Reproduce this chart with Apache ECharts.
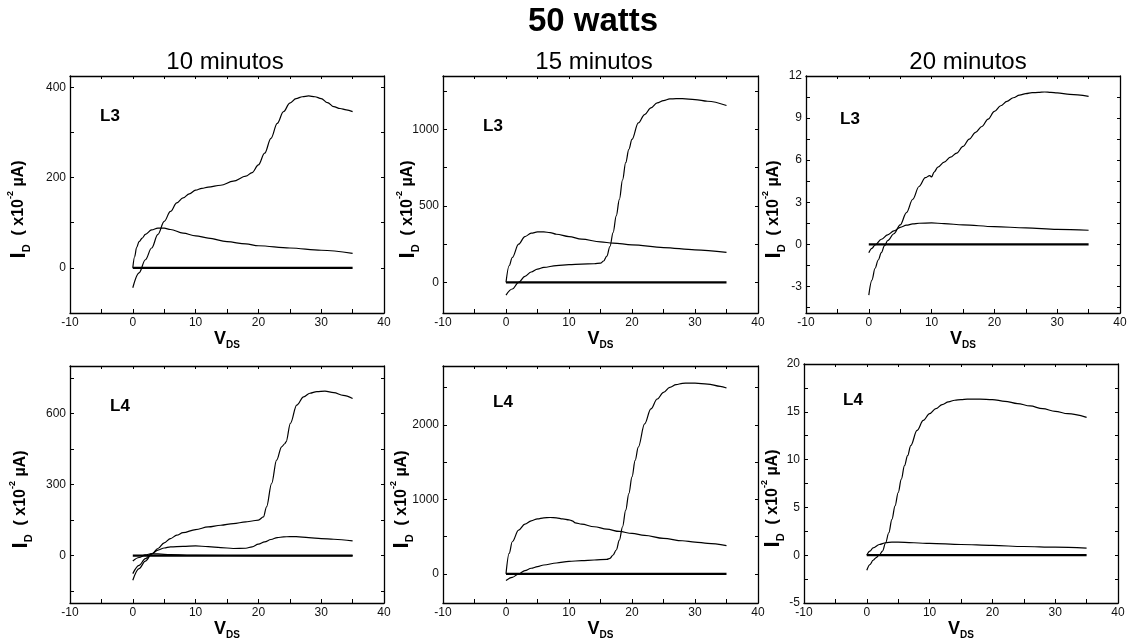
<!DOCTYPE html>
<html><head><meta charset="utf-8">
<script src="https://cdn.jsdelivr.net/npm/echarts@6/dist/echarts.min.js"></script>
<style>html,body{margin:0;padding:0;background:#fff}#c{width:1128px;height:639px}</style>
</head><body><div id="c"></div>
<script>
// ---------- tick labels ----------
const xLabelValues = [-10, 0, 10, 20, 30, 40];
const xMinorValues = [-5, 5, 15, 25, 35];

const p1YLabels = [0, 200, 400];          const p1YMinor = [100, 300];
const p2YLabels = [0, 500, 1000];         const p2YMinor = [250, 750, 1250];
const p3YLabels = [-3, 0, 3, 6, 9, 12];   const p3YMinor = [-4.5, -1.5, 1.5, 4.5, 7.5, 10.5];
const p4YLabels = [0, 300, 600];          const p4YMinor = [-150, 150, 450, 750];
const p5YLabels = [0, 1000, 2000];        const p5YMinor = [500, 1500, 2500];
const p6YLabels = [-5, 0, 5, 10, 15, 20]; const p6YMinor = [-2.5, 2.5, 7.5, 12.5, 17.5];

// ---------- titles ----------
const mainTitle = '50 watts';
const columnTitles = ['10 minutos', '15 minutos', '20 minutos'];
const rowTags = ['L3', 'L4'];

// ---------- data: [V_DS, I_D] ----------
// 10 minutos, L3
const m10L3_rise = [[0,-44],[1,-11],[2,18],[3,44],[4,74],[5,103],[6,125],[7,144],[8,155],[9,164],[10,172],[11,176],[12,179],[14,183],[16,192],[18,203],[19,211],[20,228],[21,254],[22,287],[23,320],[24,346],[25,365],[26,375],[27,379],[28,381],[29,379],[30,375],[31,366],[32,357],[33,353],[34,350],[35,346]];
const m10L3_hump = [[0,0],[0.3,25],[0.6,45],[1,58],[1.5,66],[2,74],[3,84],[4,88],[5,88],[6,85],[8,77],[10,71],[12,66],[15,58],[18,53],[20,49],[25,44],[30,39],[35,32]];
const m10L3_zero = [[0,0],[35,0]];
// 15 minutos, L3
const m15L3_rise = [[0,-83],[1,-43],[2,0],[3,40],[4,68],[5,87],[6,98],[8,110],[10,116],[12,120],[14,122],[15,126],[15.5,140],[16,172],[16.5,235],[17,326],[17.5,435],[18,543],[18.5,670],[19,783],[19.5,870],[20,935],[21,1043],[22,1098],[23,1141],[24,1174],[25,1189],[26,1200],[27,1202],[28,1202],[30,1196],[32,1185],[35,1157]];
const m15L3_hump = [[0,0],[0.5,109],[1,163],[2,250],[3,300],[4,322],[5,330],[6,330],[7,326],[8,315],[10,300],[12,283],[15,265],[17,257],[20,246],[25,228],[30,213],[35,196]];
const m15L3_zero = [[0,0],[35,0]];
// 20 minutos, L3
const m20L3_rise = [[0,-3.62],[0.5,-2.55],[1,-1.71],[1.5,-1.12],[2,-0.6],[2.5,-0.1],[3,0.26],[4,0.75],[5,1.38],[6,2.26],[7,3.21],[8,4.12],[9,4.75],[9.7,4.9],[10,4.8],[10.4,5.15],[11,5.5],[12,5.86],[13,6.21],[14,6.5],[15,6.98],[16,7.5],[17,7.98],[18,8.4],[19,8.93],[20,9.48],[21,9.88],[22,10.19],[23,10.45],[24,10.64],[25,10.74],[26,10.81],[27,10.83],[28,10.86],[29,10.83],[30,10.79],[32,10.69],[35,10.55]];
const m20L3_hump = [[0,-0.6],[0.5,-0.29],[1,-0.05],[2,0.36],[3,0.67],[4,0.95],[5,1.21],[6,1.36],[7,1.45],[8,1.5],[10,1.52],[12,1.48],[15,1.38],[20,1.26],[25,1.17],[30,1.07],[35,1.0]];
const m20L3_zero = [[0,0],[35,0]];
// 10 minutos, L4
const m10L4_rise = [[0,-104],[1,-55],[2,-23],[3,6],[4,30],[5,54],[6,72],[7,86],[8,97],[10,110],[12,121],[14,128],[16,135],[18,142],[19,146],[20,150],[20.8,163],[21.3,206],[22.1,304],[22.9,403],[23.7,459],[24.2,472],[24.4,480],[25.1,558],[26.1,635],[27.2,670],[28.2,685],[29.3,692],[30.6,694],[32,688],[33.5,676],[35,663]];
const m10L4_mid = [[0,-76],[1,-41],[2,-13],[3,8],[4,23],[5,32],[6,37],[8,39],[10,41],[12,38],[14,34],[16,30],[18,31],[19,37],[20,48],[21,58],[22,68],[23,76],[24,79],[25,80],[26,80],[28,76],[30,72],[32,69],[35,62]];
const m10L4_low = [[0,-23],[1,-8],[2,3],[3,8],[4,7],[6,4],[10,1],[20,0],[35,0]];
const m10L4_zero = [[0,0],[35,0]];
// 15 minutos, L4
const m15L4_rise = [[0,-89],[1,-45],[2,0],[3,45],[4,76],[5,98],[6,120],[8,147],[10,169],[12,178],[14,187],[16,196],[16.5,209],[17,254],[17.5,321],[18,454],[18.5,632],[19,855],[19.5,1078],[20,1301],[20.5,1523],[21,1702],[22,2013],[23,2214],[24,2347],[25,2436],[26,2503],[27,2539],[28,2557],[29,2561],[30,2561],[32,2548],[34,2517],[35,2494]];
const m15L4_hump = [[0,0],[0.5,276],[1,432],[2,588],[3,668],[4,713],[5,739],[6,753],[7,757],[8,753],[9,739],[10,726],[10.5,713],[11,686],[12,668],[14,633],[16,601],[18,570],[20,543],[22,517],[25,477],[28,445],[30,428],[32,410],[35,379]];
const m15L4_zero = [[0,0],[35,0]];
// 20 minutos, L4
const m20L4_rise = [[0,-1.58],[0.5,-0.98],[1,-0.53],[1.5,-0.25],[2,0.04],[2.5,0.42],[3,1.3],[3.5,2.35],[4,3.75],[4.5,5.16],[5,6.56],[5.5,7.96],[6,9.37],[6.5,10.42],[7,11.47],[8,13.05],[9,14.1],[10,14.8],[11,15.33],[12,15.75],[13,16.04],[14,16.21],[15,16.28],[16,16.32],[18,16.32],[20,16.28],[22,16.1],[24,15.86],[26,15.61],[28,15.33],[30,15.05],[32,14.8],[35,14.42]];
const m20L4_hump = [[0,0],[0.5,0.42],[1,0.77],[2,1.12],[3,1.3],[4,1.37],[5,1.37],[10,1.23],[15,1.12],[20,1.02],[25,0.91],[30,0.84],[35,0.74]];
const m20L4_zero = [[0,0],[35,0]];

// ---------- layout ----------
const FONT = "'Liberation Sans', Arial, Helvetica, sans-serif";
const panels = [
  {box:[70,76,314,237],  yr:[-100,425],  yl:p1YLabels, ym:p1YMinor, gap:38, tag:[100,116], curves:[m10L3_rise,m10L3_hump], zero:[m10L3_zero]},
  {box:[443,76,315,237], yr:[-200,1350], yl:p2YLabels, ym:p2YMinor, gap:22, tag:[483,126], curves:[m15L3_rise,m15L3_hump], zero:[m15L3_zero]},
  {box:[806,76,314,237], yr:[-4.9,12],   yl:p3YLabels, ym:p3YMinor, gap:19, tag:[840,119], curves:[m20L3_rise,m20L3_hump], zero:[m20L3_zero]},
  {box:[70,366,314,237], yr:[-200,800],  yl:p4YLabels, ym:p4YMinor, gap:36, tag:[110,406], curves:[m10L4_rise,m10L4_mid,m10L4_low], zero:[m10L4_zero]},
  {box:[443,366,315,237],yr:[-390,2790], yl:p5YLabels, ym:p5YMinor, gap:28, tag:[493,402], curves:[m15L4_rise,m15L4_hump], zero:[m15L4_zero]},
  {box:[804,364,314,239],yr:[-5,20],     yl:p6YLabels, ym:p6YMinor, gap:18, tag:[843,400], curves:[m20L4_rise,m20L4_hump], zero:[m20L4_zero]}
];

const grid = [], xAxis = [], yAxis = [], series = [], graphic = [];
const axisLine = {show:true, onZero:false, lineStyle:{color:'#000', width:1.3}};
const xAll = xLabelValues.concat(xMinorValues).sort((a,b)=>a-b);
const plain = v => String(v);

panels.forEach((p, g) => {
  grid.push({left:p.box[0], top:p.box[1], width:p.box[2], height:p.box[3], containLabel:false, outerBoundsMode:'none'});
  const yAll = p.yl.concat(p.ym).sort((a,b)=>a-b);
  xAxis.push({
    gridIndex:g, type:'value', position:'bottom', min:-10, max:40,
    axisLine, splitLine:{show:false},
    axisTick:{show:true, inside:true, length:4, customValues:xAll, lineStyle:{color:'#000'}},
    axisLabel:{show:true, customValues:xLabelValues, formatter:plain, margin:4, fontSize:12, color:'#111', fontFamily:FONT},
    name:'{v|V}{s|DS}', nameLocation:'middle', nameGap:15, nameMoveOverlap:false,
    nameTextStyle:{rich:{
      v:{fontSize:18, fontWeight:'bold', fontFamily:FONT, color:'#000', lineHeight:22},
      s:{fontSize:10, fontWeight:'bold', fontFamily:FONT, color:'#000', lineHeight:10, verticalAlign:'bottom'}
    }}
  });
  xAxis.push({
    gridIndex:g, type:'value', position:'top', min:-10, max:40,
    axisLine, splitLine:{show:false},
    axisTick:{show:true, inside:true, length:3, customValues:xAll, lineStyle:{color:'#000'}},
    axisLabel:{show:false}
  });
  yAxis.push({
    gridIndex:g, type:'value', position:'left', min:p.yr[0], max:p.yr[1],
    axisLine, splitLine:{show:false},
    axisTick:{show:true, inside:true, length:4, customValues:yAll, lineStyle:{color:'#000'}},
    axisLabel:{show:true, customValues:p.yl, formatter:plain, margin:4, fontSize:12, color:'#111', fontFamily:FONT},
    name:'{i|I}{d|D}{p|  ( x10}{s|-2}{p| µA)}', nameLocation:'middle', nameGap:p.gap, nameMoveOverlap:false,
    nameTextStyle:{padding:[0,30,0,0], rich:{
      i:{fontSize:22, fontWeight:'bold', fontFamily:FONT, color:'#000', lineHeight:26},
      d:{fontSize:11, fontWeight:'bold', fontFamily:FONT, color:'#000', lineHeight:11, verticalAlign:'bottom'},
      p:{fontSize:16, fontWeight:'bold', fontFamily:FONT, color:'#000', lineHeight:26},
      s:{fontSize:9, fontWeight:'bold', fontFamily:FONT, color:'#000', lineHeight:9, verticalAlign:'top'}
    }}
  });
  yAxis.push({
    gridIndex:g, type:'value', position:'right', min:p.yr[0], max:p.yr[1],
    axisLine, splitLine:{show:false},
    axisTick:{show:true, inside:true, length:3, customValues:yAll, lineStyle:{color:'#000'}},
    axisLabel:{show:false}
  });
  p.zero.forEach(d => series.push({
    type:'line', xAxisIndex:2*g, yAxisIndex:2*g, data:d, showSymbol:false, silent:true,
    lineStyle:{color:'#000', width:2.2}
  }));
  p.curves.forEach(d => series.push({
    type:'line', xAxisIndex:2*g, yAxisIndex:2*g, data:d, showSymbol:false, silent:true,
    smooth:0.35, smoothMonotone:'x', lineStyle:{color:'#000', width:1.2}
  }));
  graphic.push({type:'text', x:p.tag[0], y:p.tag[1], style:{
    text: rowTags[g < 3 ? 0 : 1], fontSize:17, fontWeight:'bold', fontFamily:FONT, fill:'#000',
    align:'left', verticalAlign:'middle'}});
});

graphic.push({type:'text', x:593, y:22, style:{text:mainTitle, fontSize:33, fontWeight:'bold', fontFamily:FONT, fill:'#000', align:'center', verticalAlign:'middle'}});
[[225,62],[594,62],[968,62]].forEach((c,i) => graphic.push({type:'text', x:c[0], y:c[1], style:{
  text:columnTitles[i], fontSize:24, fontFamily:FONT, fill:'#000', align:'center', verticalAlign:'middle'}}));

const chart = echarts.init(document.getElementById('c'), null, {renderer:'canvas'});
chart.setOption({animation:false, backgroundColor:'#fff', grid, xAxis, yAxis, series, graphic});
</script></body></html>
